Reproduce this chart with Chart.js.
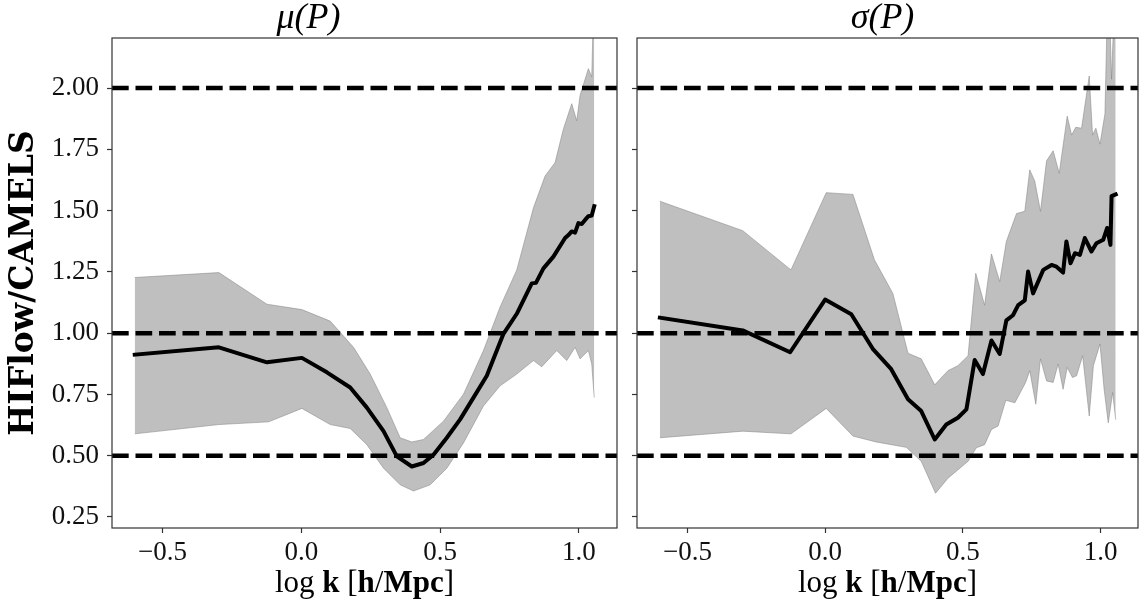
<!DOCTYPE html>
<html>
<head>
<meta charset="utf-8">
<script src="https://cdn.jsdelivr.net/npm/chart.js@4.4.1/dist/chart.umd.min.js"></script>
<style>
  html, body { margin: 0; padding: 0; background: #fff; }
  #wrap { position: relative; width: 1146px; height: 611px; }
  canvas { position: absolute; top: 0; }
  #leftChart { left: 0; }
  #rightChart { left: 627px; }
</style>
</head>
<body>
<div id="wrap">
  <canvas id="leftChart" width="627" height="611"></canvas>
  <canvas id="rightChart" width="519" height="611"></canvas>
</div>
<script>
// log k values and ratios

// left panel: mu(P)
const leftMeanK = [-0.6, -0.297, -0.124, 0.002, 0.092, 0.176, 0.236, 0.296, 0.344, 0.398, 0.44, 0.476, 0.524, 0.572, 0.62, 0.668, 0.728, 0.776, 0.83, 0.845, 0.872, 0.908, 0.95, 0.962, 0.974, 0.986, 0.998, 1.01, 1.022, 1.034, 1.046, 1.055];
const leftMean = [0.912, 0.942, 0.881, 0.899, 0.84, 0.778, 0.696, 0.60, 0.497, 0.456, 0.47, 0.504, 0.573, 0.648, 0.737, 0.826, 0.997, 1.079, 1.203, 1.205, 1.264, 1.312, 1.388, 1.40, 1.415, 1.41, 1.449, 1.445, 1.462, 1.477, 1.48, 1.518];
const leftUpperK = [-0.6, -0.297, -0.124, 0.002, 0.104, 0.188, 0.248, 0.308, 0.356, 0.398, 0.44, 0.512, 0.584, 0.656, 0.716, 0.776, 0.836, 0.878, 0.914, 0.944, 0.974, 0.992, 1.004, 1.034, 1.046, 1.055];
const leftUpper = [1.227, 1.247, 1.118, 1.096, 1.049, 0.942, 0.833, 0.696, 0.573, 0.556, 0.566, 0.641, 0.751, 0.929, 1.107, 1.258, 1.511, 1.641, 1.696, 1.833, 1.936, 1.866, 1.970, 2.079, 2.045, 2.45];
const leftLowerK = [-0.6, -0.297, -0.118, 0.002, 0.104, 0.176, 0.236, 0.296, 0.356, 0.404, 0.464, 0.524, 0.584, 0.656, 0.716, 0.776, 0.836, 0.866, 0.92, 0.956, 0.986, 1.004, 1.034, 1.046, 1.055];
const leftLower = [0.589, 0.627, 0.638, 0.693, 0.627, 0.611, 0.545, 0.449, 0.381, 0.356, 0.381, 0.449, 0.552, 0.703, 0.785, 0.833, 0.888, 0.863, 0.929, 0.888, 0.942, 0.895, 0.929, 0.874, 0.737];

// right panel: sigma(P)
const rightMeanK = [-0.6, -0.299, -0.127, 0.0, 0.095, 0.173, 0.24, 0.301, 0.349, 0.398, 0.44, 0.482, 0.513, 0.543, 0.573, 0.604, 0.634, 0.658, 0.682, 0.701, 0.725, 0.737, 0.755, 0.792, 0.822, 0.84, 0.864, 0.876, 0.891, 0.907, 0.925, 0.943, 0.967, 0.985, 1.01, 1.024, 1.036, 1.04, 1.055];
const rightMean = [1.063, 1.011, 0.922, 1.137, 1.077, 0.936, 0.853, 0.73, 0.682, 0.566, 0.627, 0.655, 0.689, 0.89, 0.833, 0.97, 0.915, 1.052, 1.073, 1.114, 1.134, 1.251, 1.162, 1.258, 1.278, 1.271, 1.247, 1.374, 1.285, 1.326, 1.319, 1.388, 1.333, 1.367, 1.381, 1.429, 1.36, 1.559, 1.566];
const rightUpperK = [-0.6, -0.299, -0.124, 0.004, 0.101, 0.179, 0.246, 0.301, 0.349, 0.398, 0.446, 0.482, 0.519, 0.547, 0.579, 0.604, 0.634, 0.658, 0.695, 0.725, 0.743, 0.761, 0.782, 0.804, 0.828, 0.85, 0.879, 0.895, 0.91, 0.931, 0.959, 0.971, 0.983, 0.998, 1.016, 1.028, 1.04, 1.055];
const rightUpper = [1.538, 1.418, 1.258, 1.573, 1.566, 1.299, 1.162, 0.918, 0.895, 0.789, 0.847, 0.867, 0.908, 1.244, 1.114, 1.323, 1.21, 1.374, 1.488, 1.497, 1.666, 1.621, 1.497, 1.703, 1.744, 1.652, 1.885, 1.808, 1.84, 1.836, 2.049, 1.808, 1.836, 1.771, 1.895, 2.5, 2.036, 2.5];
const rightLowerK = [-0.6, -0.299, -0.124, 0.004, 0.101, 0.185, 0.295, 0.349, 0.401, 0.446, 0.519, 0.549, 0.579, 0.604, 0.628, 0.656, 0.689, 0.728, 0.743, 0.765, 0.782, 0.804, 0.828, 0.846, 0.864, 0.879, 0.898, 0.913, 0.935, 0.959, 0.974, 0.998, 1.013, 1.028, 1.044, 1.055];
const rightLower = [0.573, 0.6, 0.589, 0.693, 0.58, 0.556, 0.534, 0.477, 0.347, 0.408, 0.477, 0.532, 0.545, 0.607, 0.621, 0.726, 0.716, 0.799, 0.847, 0.71, 0.895, 0.805, 0.799, 0.874, 0.771, 0.86, 0.819, 0.826, 0.908, 0.662, 0.867, 0.956, 0.771, 0.634, 0.758, 0.647];

const refLines = [2.0, 1.0, 0.5];
const panelTitles = ['\u03bc(P)', '\u03c3(P)'];
const yLabel = 'HIFlow/CAMELS';
// x label pieces: [text, bold?]
const xLabelParts = [['log', false], [' ', false], ['k', true], [' [', false], ['h', true], ['/', false], ['Mpc', true], [']', false]];

const SERIF = "'Liberation Serif', 'DejaVu Serif', serif";
const band = 'rgba(128,128,128,0.5)';

function pts(ks, vs) {
  return ks.map((k, i) => ({x: k, y: vs[i]}));
}

function buildDatasets(meanK, mean, upK, up, loK, lo, xmin, xmax) {
  const ds = [{
    data: pts(meanK, mean),
    borderColor: '#000',
    borderWidth: 4,
    borderCapStyle: 'square',
    borderJoinStyle: 'round',
    pointRadius: 0,
    fill: false
  }];
  refLines.forEach(v => {
    ds.push({
      data: [{x: xmin, y: v}, {x: xmax, y: v}],
      borderColor: '#000',
      borderWidth: 4.5,
      borderDash: [16.7, 6.8],
      borderCapStyle: 'butt',
      pointRadius: 0,
      fill: false
    });
  });
  ds.push({
    data: pts(upK, up),
    borderColor: band,
    backgroundColor: band,
    borderWidth: 1,
    pointRadius: 0,
    fill: '+1'
  });
  ds.push({
    data: pts(loK, lo),
    borderColor: band,
    borderWidth: 1,
    pointRadius: 0,
    fill: false
  });
  return ds;
}

const framePlugin = {
  id: 'frame',
  afterDraw(chart) {
    const a = chart.chartArea, c = chart.ctx;
    c.save();
    c.strokeStyle = '#333';
    c.lineWidth = 1.2;
    c.strokeRect(a.left, a.top, a.right - a.left, a.bottom - a.top);
    c.restore();
  }
};

const xLabelPlugin = {
  id: 'xlabel',
  afterDraw(chart) {
    const c = chart.ctx, a = chart.chartArea;
    const fontOf = b => (b ? 'bold ' : '') + '31px ' + SERIF;
    c.save();
    let total = 0;
    xLabelParts.forEach(p => { c.font = fontOf(p[1]); total += c.measureText(p[0]).width; });
    let x = (a.left + a.right) / 2 - total / 2;
    c.fillStyle = '#000';
    c.textBaseline = 'middle';
    c.textAlign = 'left';
    xLabelParts.forEach(p => {
      c.font = fontOf(p[1]);
      c.fillText(p[0], x, 584);
      x += c.measureText(p[0]).width;
    });
    c.restore();
  }
};

function makePanel(id, title, datasets, xmin, xmax, showY, padRight) {
  const tickFont = {family: SERIF, size: 27};
  return new Chart(document.getElementById(id), {
    type: 'line',
    data: {datasets: datasets},
    options: {
      responsive: false,
      animation: false,
      layout: {padding: {left: 0, right: padRight, top: 0, bottom: 0}},
      plugins: {
        legend: {display: false},
        tooltip: {enabled: false},
        title: {
          display: true,
          text: title,
          color: '#000',
          font: {family: SERIF, style: 'italic', weight: 'normal', size: 36, lineHeight: 1},
          padding: {top: 1, bottom: 1}
        }
      },
      scales: {
        x: {
          type: 'linear',
          min: xmin,
          max: xmax,
          border: {display: false},
          grid: {display: true, drawOnChartArea: false, drawTicks: true, tickLength: 5, color: '#333', tickWidth: 1.2},
          ticks: {
            stepSize: 0.5,
            includeBounds: false,
            maxRotation: 0,
            autoSkip: false,
            padding: 4,
            color: '#111',
            font: tickFont,
            callback: v => (v < -1e-9 ? '\u2212' : '') + Math.abs(v).toFixed(1)
          },
          afterFit: s => { s.height = 83; }
        },
        y: {
          min: 0.205,
          max: 2.204,
          border: {display: false},
          grid: {display: true, drawOnChartArea: false, drawTicks: true, tickLength: 5, color: '#333', tickWidth: 1.2},
          ticks: {
            display: showY,
            stepSize: 0.25,
            includeBounds: false,
            padding: 8,
            color: '#111',
            font: tickFont,
            callback: v => v.toFixed(2)
          },
          title: {
            display: showY,
            text: yLabel,
            color: '#000',
            font: {family: "'DejaVu Serif', serif", weight: 'bold', size: 33, lineHeight: 1},
            padding: {top: 8, bottom: 0}
          },
          afterFit: s => { s.width = showY ? 112 : 10; }
        }
      }
    },
    plugins: [framePlugin, xLabelPlugin]
  });
}

makePanel('leftChart', panelTitles[0],
  buildDatasets(leftMeanK, leftMean, leftUpperK, leftUpper, leftLowerK, leftLower, -0.682, 1.137),
  -0.682, 1.137, true, 10);

makePanel('rightChart', panelTitles[1],
  buildDatasets(rightMeanK, rightMean, rightUpperK, rightUpper, rightLowerK, rightLower, -0.683, 1.136),
  -0.683, 1.136, false, 8);
</script>
</body>
</html>
